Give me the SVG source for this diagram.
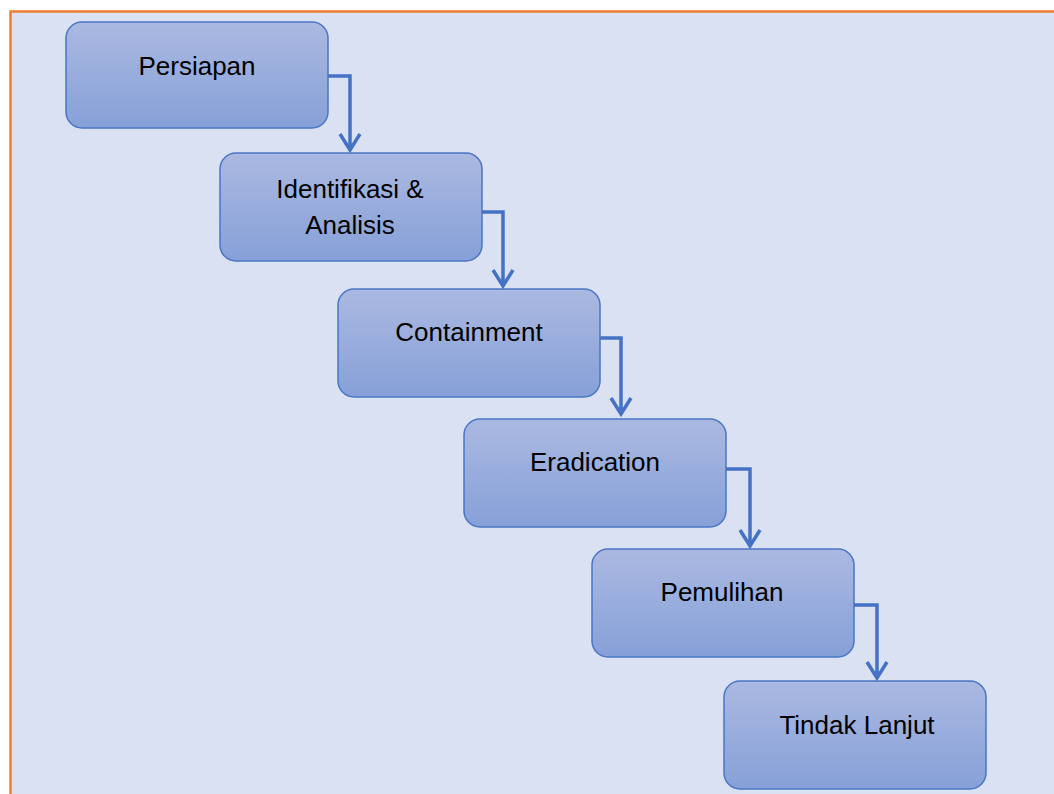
<svg xmlns="http://www.w3.org/2000/svg" width="1054" height="794" viewBox="0 0 1054 794">
<defs>
<linearGradient id="g" x1="0" y1="0" x2="0" y2="1">
<stop offset="0" stop-color="#abb9e1"/>
<stop offset="1" stop-color="#86a0d8"/>
</linearGradient>
</defs>
<style>
.box{fill:url(#g);stroke:#4a76c6;stroke-width:1.5}
.t{font-family:"Liberation Sans","Open Sans",sans-serif;font-size:26px;fill:#000;text-anchor:middle}
.c{fill:none;stroke:#4472c4;stroke-width:3.5}
</style>
<rect x="0" y="0" width="1054" height="794" fill="#ffffff"/>
<rect x="10.5" y="11.5" width="1060" height="800" fill="#dae1f3" stroke="#ed7d31" stroke-width="2.5"/>
<g id="n1"><rect class="box" x="66" y="22" width="262" height="106" rx="16"/><text class="t" x="197" y="75">Persiapan</text></g>
<g id="n2"><rect class="box" x="220" y="153" width="262" height="108" rx="16"/><text class="t" x="350" y="198">Identifikasi &amp;</text><text class="t" x="350" y="234">Analisis</text></g>
<g id="n3"><rect class="box" x="338" y="289" width="262" height="108" rx="16"/><text class="t" x="469" y="341">Containment</text></g>
<g id="n4"><rect class="box" x="464" y="419" width="262" height="108" rx="16"/><text class="t" x="595" y="471">Eradication</text></g>
<g id="n5"><rect class="box" x="592" y="549" width="262" height="108" rx="16"/><text class="t" x="722" y="601">Pemulihan</text></g>
<g id="n6"><rect class="box" x="724" y="681" width="262" height="108" rx="16"/><text class="t" x="857" y="734">Tindak Lanjut</text></g>
<g id="connectors">
<path class="c" d="M328 76 H350 V150 M340 134 L350 150 L360 134"/>
<path class="c" d="M482 212 H503 V286 M493 270 L503 286 L513 270"/>
<path class="c" d="M600 338 H621 V414 M611 398 L621 414 L631 398"/>
<path class="c" d="M726 469 H750 V546 M740 530 L750 546 L760 530"/>
<path class="c" d="M854 605 H877 V678 M867 662 L877 678 L887 662"/>
</g>
</svg>
